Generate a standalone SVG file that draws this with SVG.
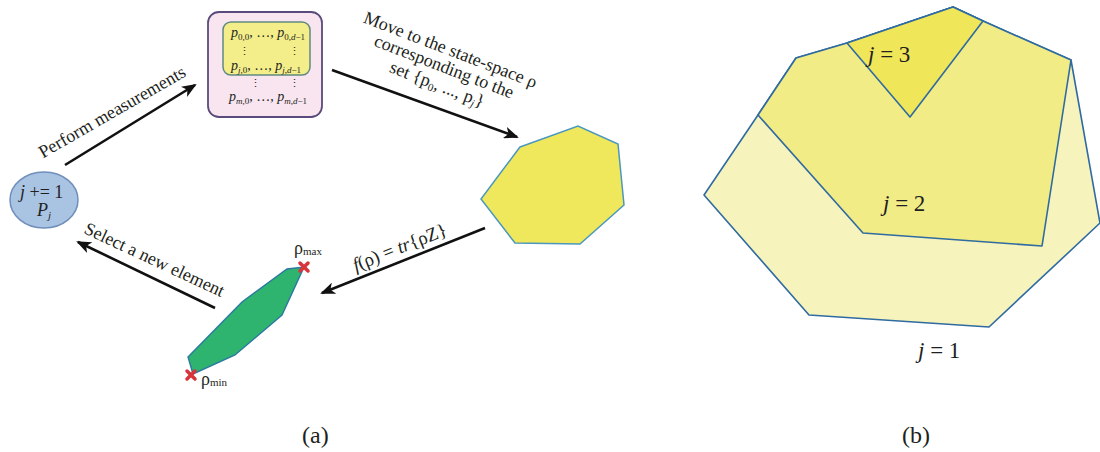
<svg xmlns="http://www.w3.org/2000/svg" width="1100" height="452" viewBox="0 0 1100 452">
<style>
text{font-family:"Liberation Serif","DejaVu Serif",serif;fill:#231f20}
.i{font-style:italic}
.arr{stroke:#111;stroke-width:2.6;fill:none;marker-end:url(#ah)}
.lbl{font-size:18px;text-anchor:middle}
.bx{font-size:14px}
.sb{font-size:9px}
.x{stroke:#d8343c;stroke-width:3.5;stroke-linecap:round}
.pb{stroke:#2f6ba0;stroke-width:1.6;stroke-linejoin:round}
.bl{font-size:23px}
</style>
<defs>
<marker id="ah" markerUnits="userSpaceOnUse" markerWidth="16" markerHeight="12" viewBox="0 0 16 12" refX="13" refY="6" orient="auto">
<path d="M0,0 L15,6 L0,12 L4,6 z" fill="#111"/>
</marker>
</defs>
<rect width="1100" height="452" fill="#fff"/>

<g id="connectors">
<line class="arr" x1="65" y1="165" x2="195" y2="85"/>
<line class="arr" x1="332" y1="70" x2="517" y2="137"/>
<line class="arr" x1="485" y1="228" x2="322" y2="293"/>
<line class="arr" x1="215" y1="308" x2="78" y2="242"/>
<text class="lbl" transform="translate(115,117) rotate(-30)">Perform measurements</text>
<text class="lbl" transform="translate(442,72) rotate(21)"><tspan x="0" y="-18">Move to the state-space ρ</tspan><tspan x="0" y="0">corresponding to the</tspan><tspan x="0" y="19">set {p<tspan font-size="11" dy="3">0</tspan><tspan dy="-3">, ..., p</tspan><tspan font-size="11" dy="3" class="i">j</tspan><tspan dy="-3">}</tspan></tspan></text>
<text class="lbl" transform="translate(402,253) rotate(-21.7)" style="font-size:19px"><tspan class="i">f</tspan>(ρ) = <tspan class="i">tr</tspan>{ρZ}</text>
<text class="lbl" transform="translate(152,265) rotate(25)">Select a new element</text>
</g>

<g id="node-j">
<ellipse cx="44" cy="200" rx="34" ry="28" fill="#a9c3e3" stroke="#6f8fba" stroke-width="1.5"/>
<text x="20" y="198" font-size="18"><tspan class="i">j</tspan> += 1</text>
<text x="37" y="216" font-size="18"><tspan class="i">P</tspan><tspan class="i" font-size="11" dy="3">j</tspan></text>
</g>

<g id="node-measurements">
<rect x="208" y="12" width="114" height="105" rx="11" fill="#f8e5f0" stroke="#5b4a7c" stroke-width="1.8"/>
<rect x="223" y="22" width="87" height="53" rx="8" fill="#f3ee8a" stroke="#5f8a80" stroke-width="1.5"/>
<text class="bx" x="231" y="37"><tspan class="i">p</tspan><tspan class="sb" dy="3">0,0</tspan><tspan dy="-3">, …, </tspan><tspan class="i">p</tspan><tspan class="sb" dy="3">0,<tspan class="i">d</tspan>−1</tspan></text>
<text x="239" y="55" font-size="11">⋮</text>
<text x="289" y="55" font-size="11">⋮</text>
<text class="bx" x="231" y="70"><tspan class="i">p</tspan><tspan class="sb" dy="3"><tspan class="i">j</tspan>,0</tspan><tspan dy="-3">, …, </tspan><tspan class="i">p</tspan><tspan class="sb" dy="3"><tspan class="i">j</tspan>,<tspan class="i">d</tspan>−1</tspan></text>
<text x="250" y="87" font-size="11">⋮</text>
<text x="289" y="87" font-size="11">⋮</text>
<text class="bx" x="229" y="101"><tspan class="i">p</tspan><tspan class="sb" dy="3"><tspan class="i">m</tspan>,0</tspan><tspan dy="-3">, …, </tspan><tspan class="i">p</tspan><tspan class="sb" dy="3"><tspan class="i">m</tspan>,<tspan class="i">d</tspan>−1</tspan></text>
</g>

<g id="node-statespace">
<polygon points="520,147 578,126 618,144 624,205 580,244 515,243 481,199" fill="#f0e85c" stroke="#4a98bd" stroke-width="1.5"/>
</g>

<g id="node-projection">
<polygon points="188,357 242,302 287,269 304,267 282,315 235,355 193,374" fill="#2fb46f" stroke="#2a79a0" stroke-width="1.4"/>
<line class="x" x1="300" y1="263" x2="308" y2="271"/><line class="x" x1="308" y1="263" x2="300" y2="271"/>
<line class="x" x1="187" y1="371" x2="195" y2="379"/><line class="x" x1="195" y1="371" x2="187" y2="379"/>
<text x="294" y="254" font-size="18">ρ<tspan font-size="11" dy="1">max</tspan></text>
<text x="201" y="385" font-size="18">ρ<tspan font-size="11" dy="1">min</tspan></text>
</g>

<g id="panel-b">
<polygon class="pb" points="704,195 758,115 796,58 847,43 953,7 983,21 1071,60 1100,223 989,327 809,315" fill="#f6f3bd"/>
<polygon class="pb" points="758,115 796,58 847,43 953,7 983,21 1071,60 1042,246 863,233" fill="#f2ec86"/>
<polygon class="pb" points="847,43 953,7 983,21 910,117" fill="#efe65a"/>
<text class="bl" x="868" y="62"><tspan class="i">j</tspan> = 3</text>
<text class="bl" x="883" y="211"><tspan class="i">j</tspan> = 2</text>
<text class="bl" x="918" y="358"><tspan class="i">j</tspan> = 1</text>
</g>

<text x="302" y="443" font-size="24">(a)</text>
<text x="902" y="443" font-size="24">(b)</text>
</svg>
